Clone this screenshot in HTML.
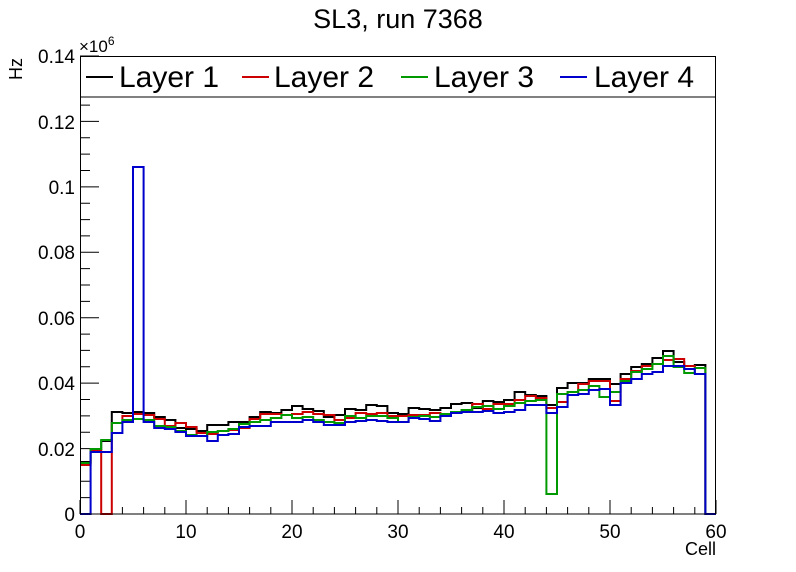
<!DOCTYPE html>
<html><head><meta charset="utf-8"><style>
html,body{margin:0;padding:0;background:#fff;}
svg{display:block;font-family:"Liberation Sans",Arial,sans-serif;}
</style></head><body>
<svg id="s" width="796" height="572" viewBox="0 0 796 572" xmlns="http://www.w3.org/2000/svg">
<rect width="796" height="572" fill="#fff"/>
<text x="398" y="28" font-size="27" text-anchor="middle">SL3, run 7368</text>
<g id="ticks" stroke="#000" stroke-width="1"></g>
<g font-size="19" text-anchor="end">
<text x="75" y="521">0</text>
<text x="75" y="456">0.02</text>
<text x="75" y="390">0.04</text>
<text x="75" y="325">0.06</text>
<text x="75" y="259">0.08</text>
<text x="75" y="194">0.1</text>
<text x="75" y="129">0.12</text>
<text x="75" y="63">0.14</text>
</g>
<g font-size="19" text-anchor="middle">
<text x="80" y="538">0</text>
<text x="186" y="538">10</text>
<text x="292" y="538">20</text>
<text x="398" y="538">30</text>
<text x="504" y="538">40</text>
<text x="610" y="538">50</text>
<text x="716" y="538">60</text>
</g>
<text x="716" y="555" font-size="18" text-anchor="end">Cell</text>
<text transform="translate(22,80) rotate(-90)" font-size="18">Hz</text>
<text x="79" y="52" font-size="17">×10<tspan dy="-7" font-size="12">6</tspan></text>
<g id="series" fill="none" stroke-width="2"></g>
<rect x="80.5" y="56.5" width="635" height="457.5" fill="none" stroke="#000" stroke-width="1"/>
<rect x="80.5" y="56.5" width="635" height="40.5" fill="#fff" stroke="#000" stroke-width="1"/>
<g font-size="30">
<line x1="86" y1="77" x2="113" y2="77" stroke="#000" stroke-width="2"/>
<text x="119" y="87">Layer 1</text>
<line x1="242" y1="77" x2="269" y2="77" stroke="#cc0000" stroke-width="2"/>
<text x="274" y="87">Layer 2</text>
<line x1="401" y1="77" x2="428" y2="77" stroke="#009900" stroke-width="2"/>
<text x="434" y="87">Layer 3</text>
<line x1="560" y1="77" x2="587" y2="77" stroke="#0000cc" stroke-width="2"/>
<text x="594" y="87">Layer 4</text>
</g>
</svg>
<script>
var B=[462,449,441,412,413,412,413,417,420,428,429,431,425,425,422,422,417,412,413,410,406,409,411,417,415,409,410,405,406,413,414,408,409,410,408,404,403,408,401,402,400,392,395,396,405,388,383,383,379,379,384,374,367,364,358,351,362,366,365,514];
var R=[465,450,514,423,416,414,415,419,426,423,427,433,434,431,430,428,419,414,414,415,414,412,414,415,420,418,413,414,413,416,416,415,415,413,415,412,410,404,409,404,404,400,396,398,408,402,392,384,381,381,401,379,371,366,364,360,359,366,368,514];
var G=[463,449,440,423,420,419,420,426,427,431,435,436,432,431,429,424,422,420,418,415,418,417,420,422,423,416,418,416,416,418,422,417,416,417,414,412,410,407,406,409,406,403,401,400,494,394,392,390,386,397,392,381,372,369,364,356,367,373,368,514];
var L=[514,452,452,433,422,167,422,428,429,432,436,436,441,435,434,427,426,426,422,422,422,420,422,425,425,422,421,420,421,422,422,418,419,421,416,413,412,412,411,413,412,410,405,405,413,407,395,394,390,389,405,383,379,374,372,366,366,369,374,514];
function p(a){var d="M80,"+a[0];for(var i=0;i<60;i++){var x0=80+10.6*i,x1=x0+10.6;d+=" V"+a[i]+" H"+x1.toFixed(1);}return d;}
var g=document.getElementById("series"),ns="http://www.w3.org/2000/svg";
[[B,"#000"],[R,"#cc0000"],[G,"#009900"],[L,"#0000cc"]].forEach(function(s){var e=document.createElementNS(ns,"path");e.setAttribute("d",p(s[0]));e.setAttribute("stroke",s[1]);g.appendChild(e);});
var t=document.getElementById("ticks"),d="";
for(var v=0;v<=0.14001;v+=0.005){var y=514-v*3271.4;var maj=Math.abs(v/0.02-Math.round(v/0.02))<1e-6;d+="M80,"+y.toFixed(1)+" H"+(maj?99:90)+" ";}
for(var c=0;c<=60;c+=2){var x=80+10.6*c;d+="M"+x.toFixed(1)+",514 V"+(c%10==0?500:507)+" ";}
var e=document.createElementNS(ns,"path");e.setAttribute("d",d);t.appendChild(e);
</script>
</body></html>
